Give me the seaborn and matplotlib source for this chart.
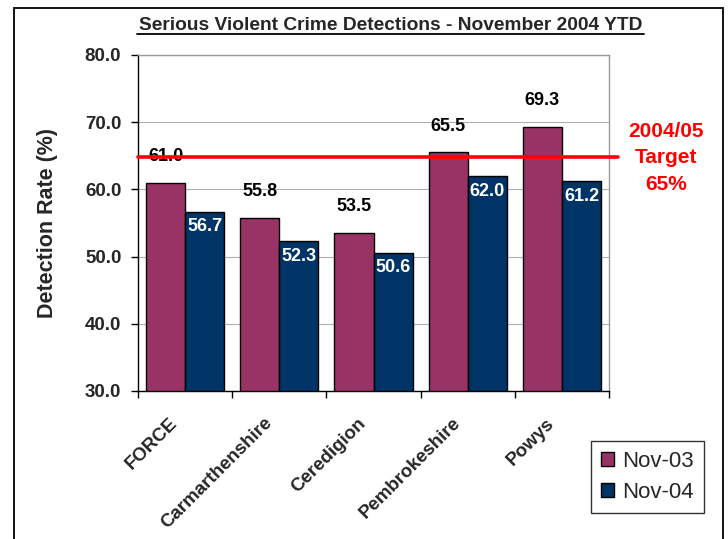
import pandas as pd
import matplotlib.pyplot as plt
import seaborn as sns
from matplotlib.lines import Line2D
from matplotlib.patches import Rectangle
from matplotlib.transforms import ScaledTranslation

# Data
areas = ['FORCE', 'Carmarthenshire', 'Ceredigion', 'Pembrokeshire', 'Powys']
nov03 = [61.0, 55.8, 53.5, 65.5, 69.3]
nov04 = [56.7, 52.3, 50.6, 62.0, 61.2]
series = ['Nov-03', 'Nov-04']
target = 64.8
colors = ['#993366', '#003366']

df = pd.DataFrame({
    'Area': areas * 2,
    'Period': [series[0]] * len(areas) + [series[1]] * len(areas),
    'Rate': nov03 + nov04,
})

sns.set_style('white')
plt.rcParams['font.family'] = ['Liberation Sans', 'DejaVu Sans']

fig = plt.figure(figsize=(7.28, 5.39), dpi=100)
ax = fig.add_axes([0.1896, 0.2746, 0.647, 0.6234])

sns.barplot(data=df, x='Area', y='Rate', hue='Period', palette=colors,
            saturation=1, width=0.83, edgecolor='black', linewidth=1,
            ax=ax, legend=True)

ax.set_xlim(-0.5, 4.5)
ax.set_ylim(30, 80)
yt = [30, 40, 50, 60, 70, 80]
ax.set_yticks(yt)
ax.set_yticklabels([f'{v:.1f}' for v in yt], fontsize=13.5, fontweight='bold')
ax.yaxis.grid(True, color='#b0b0b0', linewidth=0.8)
ax.set_axisbelow(True)
for k, s in ax.spines.items():
    s.set_linewidth(1)
    s.set_color('black' if k in ('left', 'bottom') else '#999999')
ax.tick_params(axis='y', length=5, width=1, color='black', left=True, pad=7)
ax.set_xticks(range(len(areas)))
ax.set_xticks([i - 0.5 for i in range(len(areas) + 1)], minor=True)
ax.tick_params(axis='x', which='major', length=0, pad=17)
ax.tick_params(axis='x', which='minor', length=5, width=1, color='black', bottom=True)
ax.set_xticklabels(areas, rotation=45, ha='right', rotation_mode='anchor',
                   fontsize=13.5, fontweight='bold')
shift = ScaledTranslation(-0.16, 0, fig.dpi_scale_trans)
for lab in ax.get_xticklabels():
    lab.set_transform(lab.get_transform() + shift)
ax.set_xlabel('')
ax.set_ylabel('Detection Rate (%)', fontsize=15.5, fontweight='bold', labelpad=19)

# value labels
c1, c2 = ax.containers[0], ax.containers[1]
for bar, v in zip(c1, nov03):
    ax.annotate(f'{v:.1f}', (bar.get_x() + bar.get_width() / 2, v),
                xytext=(0, 19), textcoords='offset points', ha='center',
                va='center', fontsize=13, fontweight='bold', color='black')
for bar, v in zip(c2, nov04):
    ax.annotate(f'{v:.1f}', (bar.get_x() + bar.get_width() / 2, v),
                xytext=(0, -11), textcoords='offset points', ha='center',
                va='center', fontsize=13, fontweight='bold', color='white')

# target line
ax.plot([-0.5, 4.6], [target, target], color='red', linewidth=2.6,
        clip_on=False, zorder=5)
fig.text(0.915, 0.707, '2004/05\nTarget\n65%', color='red', fontsize=15,
         fontweight='bold', ha='center', va='center', linespacing=1.5)

# legend
leg = ax.legend(loc='center', bbox_to_anchor=(0.889, 0.115),
                bbox_transform=fig.transFigure, fontsize=16, frameon=True,
                fancybox=False, edgecolor='black', handlelength=0.6,
                handleheight=0.6, borderpad=0.45, labelspacing=0.45,
                handletextpad=0.35, borderaxespad=0)
leg.get_frame().set_linewidth(1)

# title with underline
fig.text(0.536, 0.952, 'Serious Violent Crime Detections - November 2004 YTD',
         fontsize=13.8, fontweight='bold', ha='center', va='center')
fig.add_artist(Line2D([0.188, 0.885], [0.936, 0.936], color='black', linewidth=1.3))

# outer border
fig.add_artist(Rectangle((0.019, -0.01), 0.974, 0.995, transform=fig.transFigure,
                         fill=False, edgecolor='black', linewidth=1.3))

fig.savefig('out.png', dpi=100)
